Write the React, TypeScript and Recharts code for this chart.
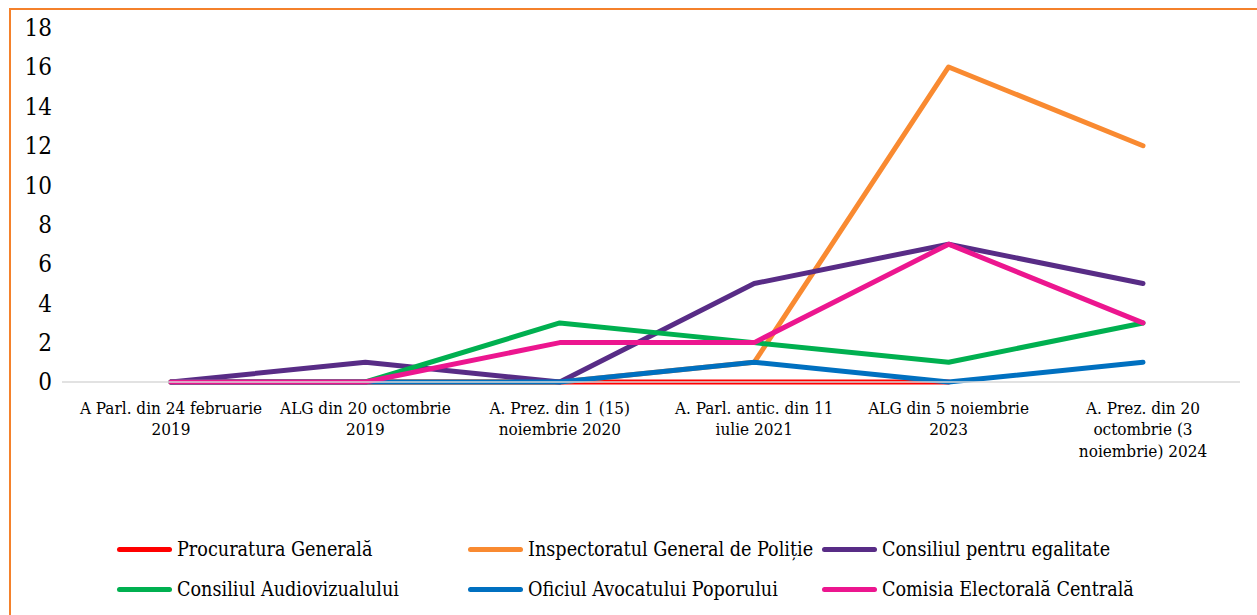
import React from 'react';
import { LineChart, Line, XAxis, YAxis } from 'recharts';

const categories = [
  'A Parl. din 24 februarie 2019',
  'ALG din 20 octombrie 2019',
  'A. Prez. din 1 (15) noiembrie 2020',
  'A. Parl. antic. din 11 iulie 2021',
  'ALG din 5 noiembrie 2023',
  'A. Prez. din 20 octombrie (3 noiembrie) 2024',
];
const tickLines: string[][] = [
  ['A Parl. din 24 februarie', '2019'],
  ['ALG din 20 octombrie', '2019'],
  ['A. Prez. din 1 (15)', 'noiembrie 2020'],
  ['A. Parl. antic. din 11', 'iulie 2021'],
  ['ALG din 5 noiembrie', '2023'],
  ['A. Prez. din 20', 'octombrie (3', 'noiembrie) 2024'],
];
const yTicks = [0, 2, 4, 6, 8, 10, 12, 14, 16, 18];

const procuratura = [0, 0, 0, 0, 0, null];
const inspectoratul = [0, 0, 0, 1, 16, 12];
const egalitate = [0, 1, 0, 5, 7, 5];
const audiovizual = [0, 0, 3, 2, 1, 3];
const avocat = [0, 0, 0, 1, 0, 1];
const cec = [0, 0, 2, 2, 7, 3];

const seriesNames = [
  'Procuratura Generală',
  'Inspectoratul General de Poliție',
  'Consiliul pentru egalitate',
  'Consiliul Audiovizualului',
  'Oficiul Avocatului Poporului',
  'Comisia Electorală Centrală',
];
const seriesValues = [procuratura, inspectoratul, egalitate, audiovizual, avocat, cec];
const seriesColors = ['#FF0000', '#F98A31', '#582C86', '#00B050', '#0070C0', '#EC168F'];

const data = categories.map((c, i) => {
  const row: Record<string, any> = { cat: c, idx: i };
  seriesNames.forEach((n, s) => {
    row[n] = seriesValues[s][i];
  });
  return row;
});

const FONT = '"DejaVu Serif Condensed", "DejaVu Serif", serif';

const XTick = (p: any) => {
  const lines = tickLines[p.index] || [p.payload.value];
  return (
    <g>
      {lines.map((l, k) => (
        <text
          key={k}
          x={p.x}
          y={p.y + 26 + k * 21.5}
          dy="0.35em"
          textAnchor="middle"
          fontFamily={FONT}
          fontSize={17}
          fill="#000"
        >
          {l}
        </text>
      ))}
    </g>
  );
};

const YTick = (p: any) => (
  <text x={52} y={p.y} dy="0.35em" textAnchor="end" fontFamily={FONT} fontSize={24} fill="#000">
    {p.payload.value}
  </text>
);

const legendCols = [117, 468, 822];
const legendRows = [549, 589];

export default function App() {
  return (
    <div style={{ position: 'absolute', left: 0, top: 0, width: 1257, height: 615, overflow: 'hidden', background: '#fff' }}>
      <div
        style={{
          position: 'absolute',
          left: 9,
          top: 8,
          width: 1300,
          height: 700,
          borderLeft: '2px solid #F4812B',
          borderTop: '2px solid #F4812B',
        }}
      />
      <div style={{ position: 'absolute', left: 0, top: 0 }}>
        <LineChart width={1257} height={615} data={data} margin={{ top: 27.6, right: 17, left: 12, bottom: 143 }}>
          <XAxis
            dataKey="cat"
            height={90}
            interval={0}
            padding={{ left: 109, right: 97 }}
            tickLine={false}
            tickSize={0}
            tickMargin={0}
            axisLine={{ stroke: '#D9D9D9', strokeWidth: 1.5 }}
            tick={<XTick />}
          />
          <YAxis
            width={50}
            domain={[0, 18]}
            ticks={yTicks}
            interval={0}
            axisLine={false}
            tickLine={false}
            tick={<YTick />}
          />
          {seriesNames.map((n, s) => (
            <Line
              key={n}
              dataKey={n}
              name={n}
              stroke={seriesColors[s]}
              strokeWidth={5}
              strokeLinecap="round"
              strokeLinejoin="round"
              dot={false}
              activeDot={false}
              connectNulls={false}
              isAnimationActive={false}
            />
          ))}
        </LineChart>
      </div>
      {seriesNames.map((n, s) => (
        <div
          key={n}
          style={{
            position: 'absolute',
            left: legendCols[s % 3],
            top: legendRows[Math.floor(s / 3)] - 13,
            height: 26,
            display: 'flex',
            alignItems: 'center',
            whiteSpace: 'nowrap',
            fontFamily: FONT,
            fontSize: 19.6,
            color: '#000',
          }}
        >
          <span
            style={{
              display: 'inline-block',
              width: 55,
              height: 5,
              borderRadius: 3,
              background: seriesColors[s],
              marginRight: 5,
            }}
          />
          <span>{n}</span>
        </div>
      ))}
    </div>
  );
}
